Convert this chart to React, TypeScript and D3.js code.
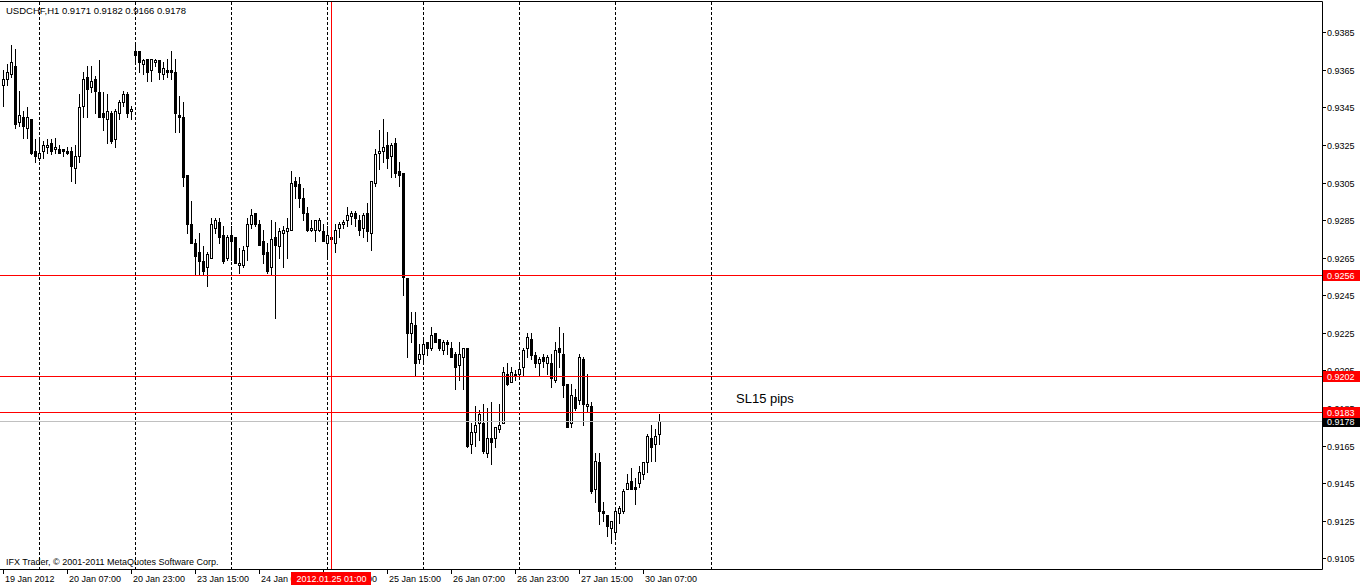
import React from 'react';
import * as d3 from 'd3';

const W = 1360;
const H = 586;

const opens = [
  0.9357, 0.9360, 0.9363, 0.9367, 0.9337, 0.9340, 0.9334, 0.9339, 0.9322, 0.9318,
  0.9322, 0.9324, 0.9326, 0.9323, 0.9323, 0.9323, 0.9322, 0.9322, 0.9313, 0.9319,
  0.9346, 0.9361, 0.9356, 0.9360, 0.9353, 0.9342, 0.9339, 0.9342, 0.9328, 0.9342,
  0.9348, 0.9352, 0.9343, 0.9375, 0.9375, 0.9368, 0.9371, 0.9365, 0.9369, 0.9370,
  0.9363, 0.9365, 0.9365, 0.9364, 0.9341, 0.9340, 0.9309, 0.9283, 0.9273, 0.9268,
  0.9263, 0.9260, 0.9265, 0.9281, 0.9284, 0.9277, 0.9265, 0.9277, 0.9276, 0.9261,
  0.9261, 0.9271, 0.9283, 0.9289, 0.9283, 0.9274, 0.9268, 0.9260, 0.9276, 0.9271,
  0.9278, 0.9279, 0.9280, 0.9306, 0.9304, 0.9297, 0.9289, 0.9280, 0.9280, 0.9280,
  0.9279, 0.9273, 0.9276, 0.9273, 0.9281, 0.9283, 0.9285, 0.9287, 0.9289, 0.9285,
  0.9281, 0.9289, 0.9278, 0.9305, 0.9321, 0.9322, 0.9325, 0.9319, 0.9326, 0.9311,
  0.9310, 0.9254, 0.9225, 0.9229, 0.9211, 0.9214, 0.9220, 0.9217, 0.9225, 0.9222,
  0.9216, 0.9220, 0.9217, 0.9214, 0.9208, 0.9212, 0.9217, 0.9166, 0.9172, 0.9177,
  0.9177, 0.9161, 0.9169, 0.9169, 0.9174, 0.9177, 0.9203, 0.9199, 0.9203, 0.9203,
  0.9207, 0.9217, 0.9222, 0.9213, 0.9209, 0.9212, 0.9209, 0.9209, 0.9200, 0.9217,
  0.9214, 0.9198, 0.9177, 0.9191, 0.9189, 0.9211, 0.9186, 0.9186, 0.9142, 0.9156,
  0.9130, 0.9128, 0.9121, 0.9119, 0.9129, 0.9130, 0.9142, 0.9146, 0.9143, 0.9145,
  0.9150, 0.9156, 0.9169, 0.9166, 0.9171,
];

const highs = [
  0.9365, 0.9368, 0.9378, 0.9376, 0.9354, 0.9343, 0.9345, 0.9339, 0.9328, 0.9328,
  0.9327, 0.9328, 0.9328, 0.9329, 0.9325, 0.9323, 0.9324, 0.9324, 0.9325, 0.9352,
  0.9364, 0.9367, 0.9367, 0.9362, 0.9370, 0.9353, 0.9352, 0.9343, 0.9344, 0.9349,
  0.9354, 0.9353, 0.9346, 0.9379, 0.9375, 0.9371, 0.9371, 0.9371, 0.9371, 0.9370,
  0.9369, 0.9371, 0.9375, 0.9371, 0.9351, 0.9348, 0.9309, 0.9295, 0.9275, 0.9278,
  0.9271, 0.9268, 0.9286, 0.9286, 0.9286, 0.9282, 0.9277, 0.9282, 0.9276, 0.9270,
  0.9271, 0.9286, 0.9291, 0.9289, 0.9285, 0.9280, 0.9273, 0.9285, 0.9284, 0.9281,
  0.9282, 0.9286, 0.9311, 0.9308, 0.9308, 0.9302, 0.9292, 0.9285, 0.9285, 0.9286,
  0.9283, 0.9282, 0.9277, 0.9283, 0.9284, 0.9285, 0.9292, 0.9290, 0.9290, 0.9288,
  0.9289, 0.9294, 0.9306, 0.9323, 0.9333, 0.9339, 0.9332, 0.9326, 0.9329, 0.9316,
  0.9310, 0.9254, 0.9236, 0.9236, 0.9219, 0.9222, 0.9220, 0.9228, 0.9225, 0.9222,
  0.9221, 0.9221, 0.9220, 0.9215, 0.9220, 0.9217, 0.9217, 0.9177, 0.9186, 0.9184,
  0.9187, 0.9185, 0.9188, 0.9175, 0.9187, 0.9207, 0.9209, 0.9207, 0.9205, 0.9209,
  0.9217, 0.9225, 0.9225, 0.9215, 0.9212, 0.9214, 0.9213, 0.9214, 0.9220, 0.9228,
  0.9225, 0.9198, 0.9198, 0.9195, 0.9214, 0.9212, 0.9203, 0.9188, 0.9161, 0.9161,
  0.9135, 0.9128, 0.9125, 0.9132, 0.9133, 0.9142, 0.9150, 0.9153, 0.9148, 0.9154,
  0.9156, 0.9171, 0.9176, 0.9174, 0.9182,
];

const lows = [
  0.9346, 0.9357, 0.9361, 0.9334, 0.9335, 0.9329, 0.9329, 0.9320, 0.9316, 0.9317,
  0.9318, 0.9321, 0.9320, 0.9321, 0.9321, 0.9319, 0.9320, 0.9306, 0.9305, 0.9316,
  0.9340, 0.9340, 0.9353, 0.9342, 0.9340, 0.9333, 0.9326, 0.9326, 0.9324, 0.9339,
  0.9346, 0.9340, 0.9339, 0.9369, 0.9364, 0.9363, 0.9359, 0.9359, 0.9367, 0.9360,
  0.9360, 0.9361, 0.9360, 0.9332, 0.9332, 0.9303, 0.9278, 0.9273, 0.9256, 0.9256,
  0.9256, 0.9250, 0.9265, 0.9278, 0.9273, 0.9262, 0.9264, 0.9264, 0.9262, 0.9257,
  0.9260, 0.9264, 0.9281, 0.9282, 0.9272, 0.9262, 0.9257, 0.9256, 0.9233, 0.9265,
  0.9260, 0.9265, 0.9280, 0.9297, 0.9292, 0.9285, 0.9279, 0.9279, 0.9274, 0.9279,
  0.9274, 0.9265, 0.9274, 0.9268, 0.9276, 0.9281, 0.9282, 0.9283, 0.9282, 0.9277,
  0.9276, 0.9274, 0.9269, 0.9303, 0.9312, 0.9316, 0.9313, 0.9308, 0.9308, 0.9303,
  0.9245, 0.9212, 0.9220, 0.9202, 0.9209, 0.9209, 0.9213, 0.9216, 0.9220, 0.9216,
  0.9214, 0.9214, 0.9212, 0.9195, 0.9200, 0.9195, 0.9164, 0.9161, 0.9165, 0.9168,
  0.9161, 0.9159, 0.9155, 0.9164, 0.9172, 0.9177, 0.9197, 0.9199, 0.9200, 0.9201,
  0.9202, 0.9212, 0.9211, 0.9207, 0.9202, 0.9207, 0.9203, 0.9196, 0.9199, 0.9207,
  0.9191, 0.9175, 0.9175, 0.9184, 0.9187, 0.9176, 0.9183, 0.9140, 0.9135, 0.9123,
  0.9125, 0.9117, 0.9113, 0.9117, 0.9124, 0.9129, 0.9142, 0.9142, 0.9134, 0.9143,
  0.9147, 0.9151, 0.9157, 0.9157, 0.9166,
];

const closes = [
  0.9360, 0.9364, 0.9369, 0.9336, 0.9341, 0.9335, 0.9340, 0.9321, 0.9319, 0.9321,
  0.9325, 0.9325, 0.9322, 0.9324, 0.9321, 0.9322, 0.9321, 0.9314, 0.9319, 0.9345,
  0.9360, 0.9355, 0.9359, 0.9354, 0.9340, 0.9340, 0.9343, 0.9327, 0.9343, 0.9348,
  0.9352, 0.9342, 0.9344, 0.9373, 0.9369, 0.9370, 0.9364, 0.9371, 0.9370, 0.9364,
  0.9366, 0.9364, 0.9364, 0.9342, 0.9340, 0.9308, 0.9283, 0.9273, 0.9266, 0.9263,
  0.9258, 0.9267, 0.9283, 0.9285, 0.9276, 0.9263, 0.9276, 0.9274, 0.9262, 0.9262,
  0.9269, 0.9283, 0.9288, 0.9283, 0.9272, 0.9267, 0.9258, 0.9275, 0.9272, 0.9279,
  0.9280, 0.9281, 0.9305, 0.9303, 0.9297, 0.9289, 0.9280, 0.9281, 0.9285, 0.9285,
  0.9274, 0.9277, 0.9275, 0.9280, 0.9283, 0.9284, 0.9288, 0.9289, 0.9286, 0.9280,
  0.9288, 0.9279, 0.9306, 0.9320, 0.9322, 0.9324, 0.9318, 0.9325, 0.9310, 0.9309,
  0.9255, 0.9225, 0.9230, 0.9209, 0.9214, 0.9219, 0.9217, 0.9224, 0.9220, 0.9217,
  0.9220, 0.9219, 0.9212, 0.9207, 0.9214, 0.9217, 0.9165, 0.9172, 0.9176, 0.9182,
  0.9162, 0.9169, 0.9167, 0.9175, 0.9176, 0.9204, 0.9198, 0.9204, 0.9202, 0.9206,
  0.9216, 0.9223, 0.9213, 0.9209, 0.9211, 0.9210, 0.9212, 0.9201, 0.9216, 0.9215,
  0.9197, 0.9175, 0.9192, 0.9185, 0.9212, 0.9187, 0.9187, 0.9141, 0.9157, 0.9130,
  0.9129, 0.9122, 0.9125, 0.9130, 0.9132, 0.9141, 0.9145, 0.9142, 0.9142, 0.9151,
  0.9156, 0.9170, 0.9164, 0.9170, 0.9178,
];

const priceTicks = [
  0.9385, 0.9365, 0.9345, 0.9325, 0.9305, 0.9285, 0.9265, 0.9245,
  0.9225, 0.9205, 0.9185, 0.9165, 0.9145, 0.9125, 0.9105,
];

const timeTickBars = [0, 16, 32, 48, 64, 80, 96, 112, 128, 144, 160];
const timeTickLabels = [
  '19 Jan 2012', '20 Jan 07:00', '20 Jan 23:00', '23 Jan 15:00', '24 Jan 07:00',
  '24 Jan 23:00', '25 Jan 15:00', '26 Jan 07:00', '26 Jan 23:00', '27 Jan 15:00',
  '30 Jan 07:00',
];

const separatorBars = [9, 33, 57, 81, 105, 129, 153, 177];
const redLevels = [0.9256, 0.9202, 0.9183];
const bidPrice = 0.9178;
const crosshairBar = 82;
const crosshairLabel = '2012.01.25 01:00';
const titleText = 'USDCHF,H1  0.9171 0.9182 0.9166 0.9178';
const copyrightText = 'IFX Trader, \u00A9 2001-2011 MetaQuotes Software Corp.';
const noteText = 'SL15 pips';
const notePrice = 0.9188;
const noteBar = 184;

const FONT = "'Liberation Sans', Arial, sans-serif";

export default function App() {
  const plotRight = 1322;
  const plotBottom = 569;
  const x = d3.scaleLinear().domain([0, 1]).range([3, 7]);
  const y = d3.scaleLinear().domain([0.9385, 0.9105]).range([32.3, 558.3]);
  const py = (p: number) => Math.round(y(p));
  const fmt = d3.format('.4f');

  const candles = opens.map((o, i) => {
    const c = closes[i];
    const h = highs[i];
    const l = lows[i];
    const cx = Math.round(x(i));
    const bull = c >= o;
    const top = py(Math.max(o, c));
    const bot = py(Math.min(o, c));
    const yh = py(h);
    const yl = py(l);
    return (
      <g key={i}>
        <rect x={cx} y={yh} width={1} height={Math.max(1, yl - yh + 1)} fill="#000" />
        {bull && bot - top >= 1 ? (
          <rect x={cx - 0.5} y={top + 0.5} width={2} height={bot - top} fill="#fff" stroke="#000" strokeWidth={1} />
        ) : bull ? (
          <rect x={cx - 1} y={top} width={3} height={1} fill="#000" />
        ) : (
          <rect x={cx - 1} y={top} width={3} height={Math.max(1, bot - top + 1)} fill="#000" />
        )}
      </g>
    );
  });

  return (
    <svg width={W} height={H} style={{ position: 'absolute', left: 0, top: 0, background: '#fff' }} fontFamily={FONT}>
      <rect x={0} y={0} width={W} height={H} fill="#fff" />
      {separatorBars.map((b) => (
        <line key={'s' + b} x1={Math.round(x(b)) + 0.5} x2={Math.round(x(b)) + 0.5} y1={2} y2={plotBottom} stroke="#000" strokeWidth={1} strokeDasharray="3,2" />
      ))}
      {candles}
      <line x1={0} x2={plotRight} y1={py(bidPrice) + 0.5} y2={py(bidPrice) + 0.5} stroke="#c0c0c0" strokeWidth={1} />
      {redLevels.map((p) => (
        <line key={'r' + p} x1={0} x2={plotRight} y1={py(p) + 0.5} y2={py(p) + 0.5} stroke="#ff0000" strokeWidth={1} />
      ))}
      <line x1={Math.round(x(crosshairBar)) + 0.5} x2={Math.round(x(crosshairBar)) + 0.5} y1={2} y2={plotBottom} stroke="#ff0000" strokeWidth={1} />
      <line x1={0} x2={plotRight + 0.5} y1={1.5} y2={1.5} stroke="#000" />
      <line x1={plotRight + 0.5} x2={plotRight + 0.5} y1={1.5} y2={plotBottom + 0.5} stroke="#000" />
      <line x1={0} x2={plotRight + 0.5} y1={plotBottom + 0.5} y2={plotBottom + 0.5} stroke="#000" />
      {priceTicks.map((p) => (
        <g key={'t' + p}>
          <line x1={plotRight} x2={plotRight + 4} y1={py(p) + 0.5} y2={py(p) + 0.5} stroke="#000" />
          <text x={1327} y={py(p) + 3.5} fontSize={9} fill="#000">{fmt(p)}</text>
        </g>
      ))}
      {timeTickBars.map((b, k) => (
        <g key={'x' + b}>
          <line x1={Math.round(x(b)) + 0.5} x2={Math.round(x(b)) + 0.5} y1={plotBottom} y2={plotBottom + 5} stroke="#000" />
          <text x={Math.round(x(b)) + 2} y={582} fontSize={9} fill="#000">{timeTickLabels[k]}</text>
        </g>
      ))}
      <rect x={Math.round(x(crosshairBar)) - 40} y={572} width={80} height={13} fill="#ff0000" />
      <text x={Math.round(x(crosshairBar)) + 0.5} y={582} fontSize={9} fill="#fff" textAnchor="middle">{crosshairLabel}</text>
      <rect x={1323} y={py(bidPrice) - 5} width={37} height={11} fill="#000" />
      <text x={1327} y={py(bidPrice) + 4} fontSize={9} fill="#fff">{fmt(bidPrice)}</text>
      {redLevels.map((p) => (
        <g key={'rl' + p}>
          <rect x={1323} y={py(p) - 5} width={37} height={11} fill="#ff0000" />
          <text x={1327} y={py(p) + 4} fontSize={9} fill="#fff">{fmt(p)}</text>
        </g>
      ))}
      <text x={6} y={14} fontSize={9.5} fill="#000">{titleText}</text>
      <text x={6} y={565} fontSize={9} fill="#000">{copyrightText}</text>
      <text x={Math.round(x(noteBar)) - 3} y={py(notePrice) + 1} fontSize={13} fill="#000">{noteText}</text>
    </svg>
  );
}
